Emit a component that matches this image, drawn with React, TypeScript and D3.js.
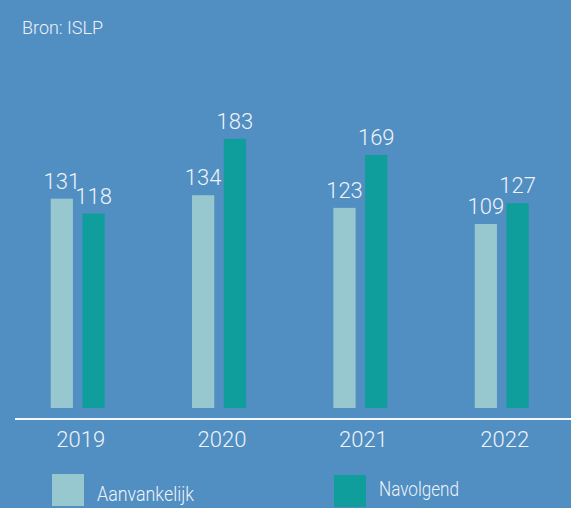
import React from 'react'
import * as d3 from 'd3'

const years = ['2019', '2020', '2021', '2022']
const series = ['Aanvankelijk', 'Navolgend']
const aanvankelijk = [131, 134, 123, 109]
const navolgend = [118, 183, 169, 127]
const source = 'Bron: ISLP'

const W = 571
const H = 508
const colors = ['#97c8cf', '#0f9e9b']

export default function App() {
  const x = d3.scaleBand<string>().domain(years).range([7, 572.4]).padding(0)
  const inner = d3.scaleBand<string>().domain(series).range([-27, 27]).paddingInner(0.3)
  // the drawing is not quite zero based; this scale follows the bars as drawn
  const y = d3.scaleLinear().domain([-51, 200]).range([408, 119.3])

  const rows = years.map((yr, i) => ({ year: yr, values: [aanvankelijk[i], navolgend[i]] }))
  const font = 'Roboto, "Open Sans", sans-serif'
  const legendLen = [97, 80]

  return (
    <div style={{ position: 'fixed', left: 0, top: 0 }}>
      <svg width={W} height={H} style={{ display: 'block' }}>
        <rect width={W} height={H} fill="#518ec1" />
        <text x={22} y={34} fill="#eef3fa" fontFamily={font} fontSize={17.5} fontWeight={300}
          textLength={81} lengthAdjust="spacingAndGlyphs">
          {source}
        </text>
        {rows.map(r => {
          const cx = x(r.year)! + x.bandwidth() / 2
          return (
            <g key={r.year} transform={`translate(${cx},0)`}>
              {r.values.map((v, j) => {
                const bx = inner(series[j])!
                const top = y(v)
                return (
                  <g key={j}>
                    <rect x={bx} y={top} width={inner.bandwidth()} height={y(-51) - top} fill={colors[j]} />
                    <text
                      x={bx + inner.bandwidth() / 2}
                      y={top - 10}
                      textAnchor="middle"
                      fill="#eef3fa"
                      fontFamily={font}
                      fontSize={22}
                      fontWeight={300}
                    >
                      {v}
                    </text>
                  </g>
                )
              })}
              <text x={3} y={447} textAnchor="middle" fill="#eef3fa" fontFamily={font} fontSize={22} fontWeight={300}>
                {r.year}
              </text>
            </g>
          )
        })}
        <line x1={15} x2={W} y1={419} y2={419} stroke="#f4f7fb" strokeWidth={2} />
        <rect x={52} y={474} width={32} height={32} fill={colors[0]} />
        <text x={97} y={500.5} fill="#eef3fa" fontFamily={font} fontSize={20} fontWeight={300}
          textLength={legendLen[0]} lengthAdjust="spacingAndGlyphs">
          {series[0]}
        </text>
        <rect x={334} y={475} width={32} height={32} fill={colors[1]} />
        <text x={379} y={496} fill="#eef3fa" fontFamily={font} fontSize={20} fontWeight={300}
          textLength={legendLen[1]} lengthAdjust="spacingAndGlyphs">
          {series[1]}
        </text>
      </svg>
    </div>
  )
}
